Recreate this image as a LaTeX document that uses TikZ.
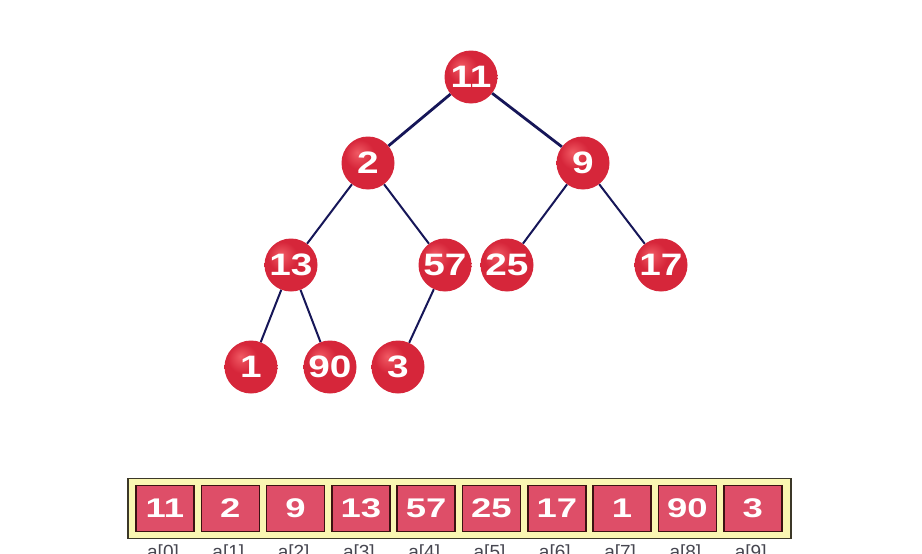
\documentclass[tikz,border=0pt]{standalone}
\usepackage{fontspec}
\setmainfont{Liberation Sans}
\newfontfamily\balldigits[FakeStretch=1.25]{Liberation Sans}
\newfontfamily\celldigits[FakeStretch=1.35]{Liberation Sans}
\definecolor{ballhi}{RGB}{240,90,100}
\definecolor{nodered}{RGB}{214,38,58}
\definecolor{balledge}{RGB}{165,22,42}
\definecolor{cellred}{RGB}{222,78,104}
\definecolor{edgeblue}{RGB}{22,22,88}
\definecolor{framefill}{RGB}{250,246,178}
\definecolor{framedraw}{RGB}{60,56,40}
\definecolor{celldraw}{RGB}{60,18,18}
\definecolor{labgray}{RGB}{70,70,80}
\pgfdeclareradialshading{redball}{\pgfpoint{-10bp}{10bp}}{%
  color(0bp)=(ballhi); color(14bp)=(nodered); color(42bp)=(nodered); color(56bp)=(balledge); color(70bp)=(balledge)}
\tikzset{
  ball/.style={circle, minimum size=53pt, inner sep=0pt, shading=redball,
    text=white, font=\balldigits\fontsize{31}{31}\selectfont\bfseries},
  edge/.style={draw=edgeblue, line width=2pt},
  edgetop/.style={draw=edgeblue, line width=2.8pt},
  frame/.style={draw=framedraw, fill=framefill, line width=1.4pt},
  cell/.style={draw=celldraw, fill=cellred, line width=1.6pt, minimum width=58pt, minimum height=46pt,
    inner sep=0pt, text=white, font=\celldigits\fontsize{27}{27}\selectfont\bfseries},
  idx/.style={text=labgray, font=\fontsize{19}{19}\selectfont, anchor=base}
}
\begin{document}
\begin{tikzpicture}[x=1pt,y=-1pt]
\useasboundingbox (0,0) rectangle (922,554);
\fill[white] (0,0) rectangle (922,554);
% tree nodes
\node[ball] (n11) at (471,77) {11};
\node[ball] (n2) at (368,163) {2};
\node[ball] (n9) at (583,163) {9};
\node[ball] (n13) at (291,265) {13};
\node[ball] (n57) at (445,265) {57};
\node[ball] (n25) at (507,265) {25};
\node[ball] (n17) at (661,265) {17};
\node[ball] (n1) at (251,367) {1};
\node[ball] (n90) at (330,367) {90};
\node[ball] (n3) at (398,367) {3};
% edges
\draw[edgetop] (n11) -- (n2);
\draw[edgetop] (n11) -- (n9);
\draw[edge] (n2) -- (n13);
\draw[edge] (n2) -- (n57);
\draw[edge] (n9) -- (n25);
\draw[edge] (n9) -- (n17);
\draw[edge] (n13) -- (n1);
\draw[edge] (n13) -- (n90);
\draw[edge] (n57) -- (n3);
% array
\node[frame, minimum width=663pt, minimum height=60pt, inner sep=0pt] (fr) at (459.5,508.5) {};
\foreach \v [count=\i from 0] in {11,2,9,13,57,25,17,1,90,3}{
  \node[cell] (c\i) at (165+65.3*\i,508.5) {\v};
  \node[idx] (l\i) at (163+65.3*\i,558) {a[\i]};
}
\end{tikzpicture}
\end{document}
